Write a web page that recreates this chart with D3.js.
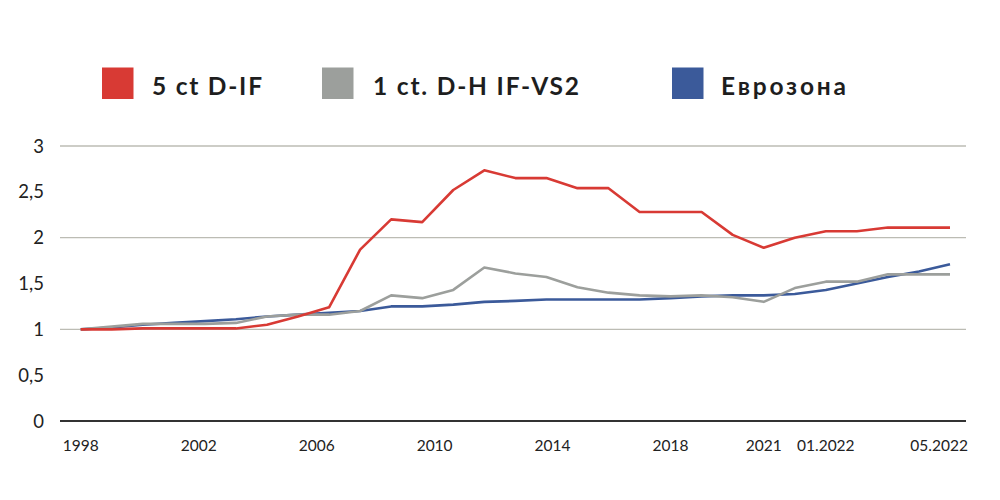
<!DOCTYPE html>
<html><head><meta charset="utf-8">
<script src="https://cdn.jsdelivr.net/npm/d3@7/dist/d3.min.js"></script>
<style>html,body{margin:0;padding:0;background:#fff;}svg{display:block;}</style>
</head><body>
<svg id="chart" width="1000" height="500"></svg>
<script>
// ---- data ----
const categories = ["1998","1999","2000","2001","2002","2003","2004","2005","2006","2007","2008","2009","2010","2011","2012","2013","2014","2015","2016","2017","2018","2019","2020","2021","01.2022","02.2022","03.2022","04.2022","05.2022"];
const seriesNames = ["5 ct D-IF", "1 ct. D-H IF-VS2", "Еврозона"];
const red5ct = [1.00,1.00,1.01,1.01,1.01,1.01,1.05,1.14,1.24,1.87,2.20,2.17,2.52,2.735,2.65,2.65,2.54,2.54,2.28,2.28,2.28,2.03,1.89,2.00,2.07,2.07,2.11,2.11,2.11];
const gray1ct = [1.00,1.03,1.06,1.06,1.06,1.07,1.14,1.16,1.16,1.20,1.37,1.34,1.43,1.675,1.61,1.57,1.46,1.40,1.37,1.36,1.37,1.35,1.30,1.45,1.52,1.52,1.60,1.60,1.60];
const euroZone = [1.00,1.02,1.05,1.07,1.09,1.11,1.14,1.16,1.18,1.20,1.25,1.25,1.27,1.30,1.31,1.325,1.325,1.325,1.325,1.34,1.36,1.37,1.37,1.385,1.43,1.50,1.57,1.63,1.71];
const xTickLabels = ["1998","2002","2006","2010","2014","2018","2021","01.2022","05.2022"];
const xTickIndex = [0, 3.8, 7.6, 11.4, 15.2, 19, 22, 24, 27.65];
const yTicks = [0, 0.5, 1, 1.5, 2, 2.5, 3];
const yGrid = [1, 2, 3];
const colors = ["#d83a34", "#9c9f9c", "#3b5a9a"];

// ---- layout ----
const svg = d3.select("#chart");
const x = d3.scaleLinear().domain([0, categories.length - 1]).range([80.7, 950]);
const y = d3.scaleLinear().domain([0, 3]).range([421, 146]);
const plotLeft = 60, plotRight = 966;

// gridlines
svg.append("g").selectAll("line").data(yGrid).join("line")
  .attr("x1", plotLeft).attr("x2", plotRight)
  .attr("y1", d => y(d)).attr("y2", d => y(d))
  .attr("stroke", "#bcbcb4").attr("stroke-width", 1.3);

// zero axis
svg.append("line").attr("x1", plotLeft).attr("x2", plotRight)
  .attr("y1", y(0)).attr("y2", y(0))
  .attr("stroke", "#333").attr("stroke-width", 2);

// y labels
const fmt = d => String(d).replace(".", ",");
svg.append("g").selectAll("text").data(yTicks).join("text")
  .attr("x", 44).attr("y", d => y(d) + 6.5)
  .attr("text-anchor", "end")
  .attr("font-family", "Lato, 'Open Sans', sans-serif")
  .attr("font-size", 18.5).attr("fill", "#222")
  .text(fmt);

// x labels
svg.append("g").selectAll("text").data(xTickLabels).join("text")
  .attr("x", (d, i) => x(xTickIndex[i])).attr("y", 451)
  .attr("text-anchor", "middle")
  .attr("font-family", "Lato, 'Open Sans', sans-serif")
  .attr("font-size", 15.5).attr("fill", "#222")
  .text(d => d);

// lines
const line = d3.line().x((d, i) => x(i)).y(d => y(d));
const drawOrder = [2, 1, 0];
const allSeries = [red5ct, gray1ct, euroZone];
drawOrder.forEach(k => {
  svg.append("path").datum(allSeries[k])
    .attr("d", line).attr("fill", "none")
    .attr("stroke", colors[k]).attr("stroke-width", 2.6)
    .attr("stroke-linejoin", "round");
});

// legend
const legendX = [102, 322, 672];
const legendTextX = [152, 373, 721];
const legendW = [110, 206, 125];
const lg = svg.append("g");
seriesNames.forEach((name, i) => {
  lg.append("rect").attr("x", legendX[i]).attr("y", 67.5)
    .attr("width", 31.5).attr("height", 31.5).attr("fill", colors[i]);
  lg.append("text").attr("x", legendTextX[i]).attr("y", 94.5)
    .attr("font-family", "Lato, 'Open Sans', sans-serif")
    .attr("font-weight", 700).attr("font-size", 24.5)
    .attr("fill", "#1e1e1e")
    .attr("textLength", legendW[i]).attr("lengthAdjust", "spacing")
    .text(name);
});
</script>
</body></html>
